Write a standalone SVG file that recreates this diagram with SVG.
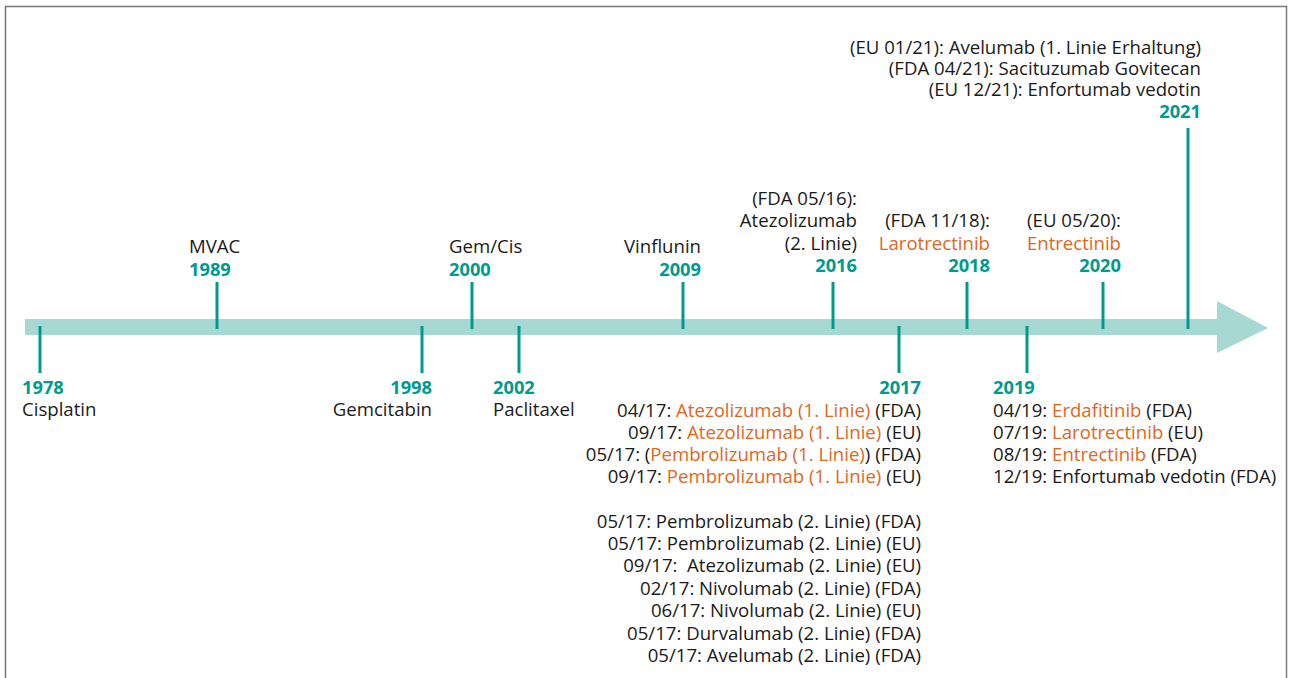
<svg xmlns="http://www.w3.org/2000/svg" width="1291" height="678" viewBox="0 0 1291 678">
<style>
text{font-family:"Open Sans","Noto Sans","Liberation Sans",sans-serif;font-size:18.6px;fill:#1a1a1a}
.y{font-weight:bold;fill:#009a8f;font-size:18.3px}
.o{fill:#e2661b}
.e{text-anchor:end}
.tick{stroke:#009a8f;stroke-width:3;fill:none}
</style>
<rect x="5.5" y="6.5" width="1281" height="700" fill="#fff" stroke="#7a7a7a" stroke-width="1.5"/>
<g id="timeline">
<rect x="25" y="319" width="1193" height="16" fill="#a6d8d4"/>
<polygon points="1217,301 1268,328 1217,353" fill="#a6d8d4"/>
</g>
<g id="connectors">
<line class="tick" x1="40" y1="326" x2="40" y2="373"/>
<line class="tick" x1="217" y1="282" x2="217" y2="329"/>
<line class="tick" x1="422" y1="326" x2="422" y2="373"/>
<line class="tick" x1="472" y1="282" x2="472" y2="329"/>
<line class="tick" x1="519" y1="326" x2="519" y2="373"/>
<line class="tick" x1="683" y1="282" x2="683" y2="329"/>
<line class="tick" x1="833" y1="282" x2="833" y2="329"/>
<line class="tick" x1="899" y1="326" x2="899" y2="373"/>
<line class="tick" x1="967" y1="282" x2="967" y2="329"/>
<line class="tick" x1="1027" y1="326" x2="1027" y2="373"/>
<line class="tick" x1="1103" y1="282" x2="1103" y2="329"/>
<line class="tick" x1="1188" y1="128" x2="1188" y2="329"/>
</g>
<g id="n1978">
<text class="y" x="22" y="394">1978</text>
<text x="22" y="416">Cisplatin</text>
</g>
<g id="n1989">
<text x="189" y="253">MVAC</text>
<text class="y" x="189" y="276">1989</text>
</g>
<g id="n1998">
<text class="y e" x="432" y="394">1998</text>
<text class="e" x="432" y="416">Gemcitabin</text>
</g>
<g id="n2000">
<text x="449" y="253">Gem/Cis</text>
<text class="y" x="449" y="276">2000</text>
</g>
<g id="n2002">
<text class="y" x="493" y="394">2002</text>
<text x="493" y="416">Paclitaxel</text>
</g>
<g id="n2009">
<text class="e" x="701" y="253">Vinflunin</text>
<text class="y e" x="701" y="276">2009</text>
</g>
<g id="n2016">
<text class="e" x="857" y="205">(FDA 05/16):</text>
<text class="e" x="857" y="227">Atezolizumab</text>
<text class="e" x="857" y="250">(2. Linie)</text>
<text class="y e" x="857" y="272">2016</text>
</g>
<g id="n2017">
<text class="y e" x="921" y="394">2017</text>
<text class="e" x="921" y="417">04/17: <tspan class="o">Atezolizumab (1. Linie)</tspan> (FDA)</text>
<text class="e" x="921" y="439">09/17: <tspan class="o">Atezolizumab (1. Linie)</tspan> (EU)</text>
<text class="e" x="921" y="461">05/17: (<tspan class="o">Pembrolizumab (1. Linie)</tspan>) (FDA)</text>
<text class="e" x="921" y="483">09/17: <tspan class="o">Pembrolizumab (1. Linie)</tspan> (EU)</text>
<text class="e" x="921" y="528">05/17: Pembrolizumab (2. Linie) (FDA)</text>
<text class="e" x="921" y="550">05/17: Pembrolizumab (2. Linie) (EU)</text>
<text class="e" x="921" y="572" xml:space="preserve">09/17:  Atezolizumab (2. Linie) (EU)</text>
<text class="e" x="921" y="595">02/17: Nivolumab (2. Linie) (FDA)</text>
<text class="e" x="921" y="617">06/17: Nivolumab (2. Linie) (EU)</text>
<text class="e" x="921" y="640">05/17: Durvalumab (2. Linie) (FDA)</text>
<text class="e" x="921" y="662">05/17: Avelumab (2. Linie) (FDA)</text>
</g>
<g id="n2018">
<text class="e" x="990" y="227">(FDA 11/18):</text>
<text class="e o" x="990" y="250">Larotrectinib</text>
<text class="y e" x="990" y="272">2018</text>
</g>
<g id="n2019">
<text class="y" x="993" y="394">2019</text>
<text x="993" y="417">04/19: <tspan class="o">Erdafitinib</tspan> (FDA)</text>
<text x="993" y="439">07/19: <tspan class="o">Larotrectinib</tspan> (EU)</text>
<text x="993" y="461">08/19: <tspan class="o">Entrectinib</tspan> (FDA)</text>
<text x="993" y="483">12/19: Enfortumab vedotin (FDA)</text>
</g>
<g id="n2020">
<text class="e" x="1121" y="227">(EU 05/20):</text>
<text class="e o" x="1121" y="250">Entrectinib</text>
<text class="y e" x="1121" y="272">2020</text>
</g>
<g id="n2021">
<text class="e" x="1201" y="54">(EU 01/21): Avelumab (1. Linie Erhaltung)</text>
<text class="e" x="1201" y="75">(FDA 04/21): Sacituzumab Govitecan</text>
<text class="e" x="1201" y="96">(EU 12/21): Enfortumab vedotin</text>
<text class="y e" x="1201" y="118">2021</text>
</g>
</svg>
